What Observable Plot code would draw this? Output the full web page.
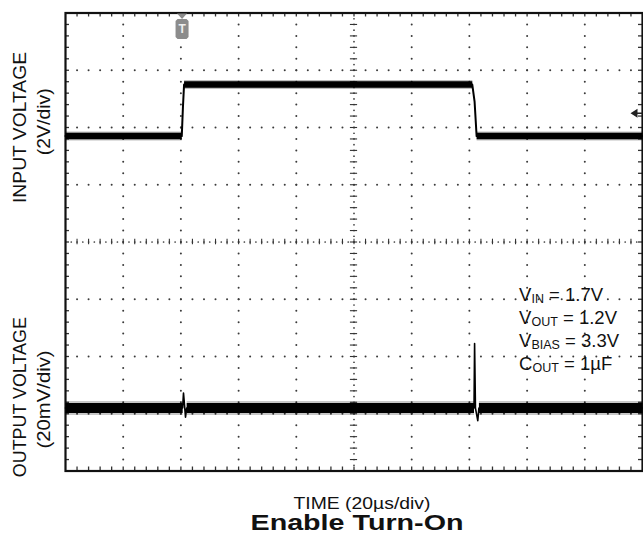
<!DOCTYPE html>
<html><head><meta charset="utf-8">
<script src="https://cdn.jsdelivr.net/npm/d3@7"></script>
<script src="https://cdn.jsdelivr.net/npm/@observablehq/plot@0.6"></script>
<style>
html,body{margin:0;padding:0;background:#fff;}
#chart{width:643px;height:541px;}
svg text{white-space:pre;}
</style></head><body><div id="chart"></div>
<script>
// ---- scope settings ----
const timeDivs = 10, usPerDiv = 20, voltDivs = 8;
const voltsPerDivIn = 2, mVPerDivOut = 20;
const inputZeroDiv = 5.85, outputZeroDiv = 1.10;

// ---- input voltage trace (V) ----
const inputTimeUs = [0, 40.3, 40.7, 41.1, 141.0, 141.8, 142.5, 200];
const inputVolts  = [0, 0, 1.0, 1.8, 1.8, 1.2, 0, 0];
const inputSettled = [0, 1.8];

// ---- output voltage trace (mV, AC) ----
const outputTimeUs     = [0, 40.6, 40.9, 41.6, 42.0, 141.6, 141.8, 142.1, 142.9, 143.3, 200];
const outputMilliVolts = [0, 0, 5.2, -3.2, 0, 0, 22.5, 0, -4.4, 0, 0];

// ---- trigger ----
const triggerTimeUs = [40.4];
const triggerLevelV = [0.8];

// ---- text ----
const annMain = ["V", "V", "V", "C"];
const annSub  = ["IN", "OUT", "BIAS", "OUT"];
const annRest = [" = 1.7V", " = 1.2V", " = 3.3V", " = 1µF"];
const yLabelsOuter = ["INPUT VOLTAGE", "OUTPUT VOLTAGE"];
const yLabelsInner = ["(2V/div)", "(20mV/div)"];
const xLabel = "TIME (20µs/div)";
const title = "Enable Turn-On";

// ---- derived ----
const tMax = timeDivs * usPerDiv;
const toObjs = (ts, vs) => ts.map((t, i) => ({t, v: vs[i]}));
const inputData = toObjs(inputTimeUs, inputVolts);
const outputData = toObjs(outputTimeUs, outputMilliVolts);
const inY = d => inputZeroDiv + d.v / voltsPerDivIn;
const outY = d => outputZeroDiv + d.v / mVPerDivOut;
const inThickY = d => inputSettled.includes(d.v) ? inY(d) : NaN;
const outThickY = d => d.v === 0 ? outY(d) : NaN;

const majorT = d3.range(1, timeDivs).map(i => i * usPerDiv);
const minorT = d3.range(1, timeDivs * 5).map(i => i * usPerDiv / 5);
const fineT = d3.range(1, timeDivs * 10).map(i => i * usPerDiv / 10);
const majorY = d3.range(1, voltDivs);
const minorY = d3.range(1, voltDivs * 5).map(i => i / 5);
const fineY = d3.range(1, voltDivs * 10).map(i => i / 10);
const centerT = tMax / 2, centerY = voltDivs / 2;
const gridDots = [
  ...d3.cross(majorT.filter(t => t !== centerT), minorY).map(([t, y]) => ({t, y})),
  ...d3.cross(minorT, majorY.filter(y => y !== centerY)).map(([t, y]) => ({t, y}))
];
const centerDots = [
  ...fineY.map(y => ({t: centerT, y})),
  ...fineT.map(t => ({t, y: centerY}))
];

const W = 643, H = 541, mL = 65, mR = 1, mT = 12.5, mB = 70.5;
const tkT = 4 / ((W - mL - mR) / tMax);
const tkY = 4 / ((H - mT - mB) / voltDivs);

const triggerSymbol = {draw(ctx) {
  ctx.moveTo(-5, 0.5); ctx.lineTo(5, 0.5); ctx.lineTo(0, 6); ctx.closePath();
  ctx.moveTo(-4.5, 6); ctx.lineTo(4.5, 6); ctx.lineTo(6.5, 8); ctx.lineTo(6.5, 24);
  ctx.lineTo(4.5, 26); ctx.lineTo(-4.5, 26); ctx.lineTo(-6.5, 24); ctx.lineTo(-6.5, 8); ctx.closePath();
}};
const arrowSymbol = {draw(ctx) {
  ctx.moveTo(-12, 0); ctx.lineTo(-5, -4.5); ctx.lineTo(-5, 4.5); ctx.closePath();
  ctx.moveTo(-5, -0.8); ctx.lineTo(0, -0.8); ctx.lineTo(0, 0.8); ctx.lineTo(-5, 0.8); ctx.closePath();
}};

const ink = "#111";
const plot = Plot.plot({
  width: W, height: H,
  marginLeft: mL, marginRight: mR, marginTop: mT, marginBottom: mB,
  x: {domain: [0, tMax], axis: null},
  y: {domain: [0, voltDivs], axis: null},
  style: {fontFamily: "'Liberation Sans', Arial, sans-serif", background: "#fff", color: ink},
  marks: [
    Plot.dot(gridDots, {x: "t", y: "y", r: 1.0, fill: "#3a3a3a"}),
    Plot.dot(centerDots, {x: "t", y: "y", r: 0.85, fill: "#3a3a3a"}),
    Plot.ruleX(minorT, {x: d => d, y1: centerY - tkY * 0.7, y2: centerY + tkY * 0.7, stroke: "#333", strokeWidth: 1.1}),
    Plot.ruleY(minorY, {y: d => d, x1: centerT - tkT * 0.9, x2: centerT + tkT * 0.9, stroke: "#333", strokeWidth: 1.1}),
    Plot.ruleX(minorT, {x: d => d, y1: voltDivs, y2: voltDivs - tkY, stroke: "#333", strokeWidth: 1.3}),
    Plot.ruleX(minorT, {x: d => d, y1: 0, y2: tkY, stroke: "#333", strokeWidth: 1.3}),
    Plot.ruleY(minorY, {y: d => d, x1: 0, x2: tkT, stroke: "#333", strokeWidth: 1.3}),
    Plot.ruleY(minorY, {y: d => d, x1: tMax, x2: tMax - tkT, stroke: "#333", strokeWidth: 1.3}),
    Plot.frame({stroke: ink, strokeWidth: 2.2}),
    // input trace
    Plot.line(inputData, {x: "t", y: inThickY, stroke: "#000", strokeWidth: 9, strokeOpacity: 0.25, strokeLinecap: "butt"}),
    Plot.line(inputData, {x: "t", y: inThickY, stroke: "#000", strokeWidth: 6.5, strokeLinecap: "butt"}),
    Plot.line(inputData, {x: "t", y: inY, stroke: "#000", strokeWidth: 2}),
    // output trace
    Plot.line(outputData, {x: "t", y: outThickY, stroke: "#000", strokeWidth: 14, strokeOpacity: 0.22, strokeLinecap: "butt"}),
    Plot.line(outputData, {x: "t", y: outThickY, stroke: "#000", strokeWidth: 10, strokeLinecap: "butt"}),
    Plot.line(outputData, {x: "t", y: outY, stroke: "#000", strokeWidth: 1.6}),
    // trigger markers
    Plot.dot(triggerTimeUs, {x: d => d, y: () => voltDivs, symbol: triggerSymbol, fill: "#8c8c8c"}),
    Plot.text(triggerTimeUs, {x: d => d, y: () => voltDivs, text: () => "T", dy: 16.5, fill: "#eee", fontWeight: "bold", fontSize: 12}),
    Plot.dot(triggerLevelV, {x: () => tMax, y: d => inputZeroDiv + d / voltsPerDivIn, symbol: arrowSymbol, fill: "#222"}),
    // axis labels
    Plot.text(yLabelsOuter, {frameAnchor: "left", textAnchor: "middle", y: (d, i) => i === 0 ? 6.0 : 1.29, text: d => d, rotate: -90, dx: -45.5, fontSize: 18, fill: ink}),
    Plot.text(yLabelsInner, {frameAnchor: "left", textAnchor: "middle", y: (d, i) => i === 0 ? 6.1 : 1.25, text: d => d, rotate: -90, dx: -21.5, fontSize: 18, fill: ink}),
    Plot.text([xLabel], {frameAnchor: "bottom", text: d => d, dx: 8, dy: 37.5, fontSize: 16.5, fill: ink}),
    Plot.text([title], {frameAnchor: "bottom", text: d => d, dx: 3, dy: 59, fontSize: 22, fontWeight: "bold", fill: ink})
  ]
});

document.getElementById("chart").appendChild(plot);

// fit label widths to the reference
const fit = new Map([["INPUT VOLTAGE", 151], ["(2V/div)", 67], ["OUTPUT VOLTAGE", 160], ["(20mV/div)", 98], [xLabel, 137], [title, 213]]);
d3.select(plot).selectAll("text").each(function () {
  const w = fit.get(this.textContent);
  if (w) d3.select(this).attr("textLength", w).attr("lengthAdjust", "spacingAndGlyphs");
});

// condition annotations with subscripts
const xs = plot.scale("x"), ys = plot.scale("y");
const annX = 157.4, annTopY = 2.966, annStep = 0.403;
const g = d3.select(plot).append("g")
  .attr("font-family", "'Liberation Sans', Arial, sans-serif")
  .attr("text-anchor", "start")
  .attr("font-size", 18.5).attr("fill", ink);
annMain.forEach((m, i) => {
  const t = g.append("text").attr("text-anchor", "start")
    .attr("x", xs.apply(annX)).attr("y", ys.apply(annTopY - i * annStep));
  t.append("tspan").text(m);
  t.append("tspan").attr("font-size", 12.5).attr("dy", 2).text(annSub[i]);
  t.append("tspan").attr("dy", -2).text(annRest[i]);
});
</script>
</body></html>
